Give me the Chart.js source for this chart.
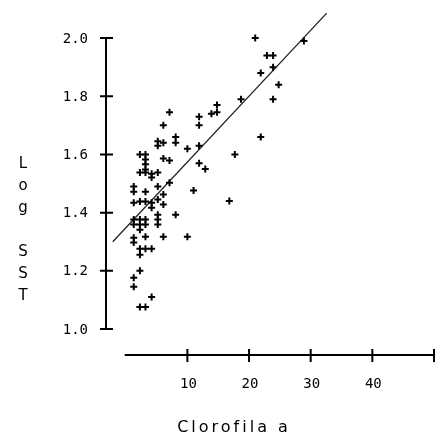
<!DOCTYPE html>
<html lang="en">
<head>
    <meta charset="UTF-8">
    <title>Log SST vs Clorofila a</title>
    <style>
        body { margin: 0; background: #fff; }
        #wrap { width: 440px; height: 436px; position: relative; }
    </style>
</head>
<body>
    <div id="wrap"><canvas id="chart"></canvas></div>

    <script src="https://cdn.jsdelivr.net/npm/chart.js"></script>
    <script>
        // values
        const clorofila = [
            21.0, 28.9, 22.9, 23.9, 21.9, 23.9, 24.8, 23.9, 18.7, 21.9, 17.7, 16.8,
            14.8, 14.8, 13.9, 11.9, 11.9, 11.9, 11.9, 12.9, 10.0,
            7.1, 6.1, 8.1, 8.1, 5.2, 6.1, 5.2,
            2.3, 3.2, 3.2, 3.2, 3.2, 2.3, 3.2, 4.2, 5.2, 4.2, 6.1, 7.1,
            1.3, 1.3, 3.2, 5.2, 7.1, 11.0,
            1.3, 2.3, 3.2, 4.2, 5.2, 6.1, 6.1, 4.2,
            5.2, 5.2, 5.2, 8.1,
            1.3, 2.3, 3.2, 1.3, 2.3, 3.2, 2.3,
            1.3, 1.3, 3.2, 6.1, 10.0,
            2.3, 3.2, 4.2, 2.3, 2.3, 1.3, 1.3, 4.2, 2.3, 3.2
        ];
        const logSST = [
            2.00, 1.99, 1.94, 1.94, 1.88, 1.90, 1.84, 1.79, 1.79, 1.66, 1.60, 1.44,
            1.77, 1.745, 1.74, 1.73, 1.70, 1.63, 1.57, 1.55, 1.62,
            1.745, 1.70, 1.66, 1.64, 1.645, 1.64, 1.63,
            1.60, 1.60, 1.583, 1.566, 1.548, 1.538, 1.538, 1.534, 1.538, 1.521, 1.586, 1.579,
            1.49, 1.472, 1.472, 1.49, 1.503, 1.476,
            1.434, 1.438, 1.438, 1.434, 1.445, 1.462, 1.428, 1.417,
            1.393, 1.376, 1.359, 1.393,
            1.376, 1.376, 1.376, 1.359, 1.359, 1.359, 1.341,
            1.314, 1.297, 1.317, 1.317, 1.317,
            1.276, 1.276, 1.276, 1.255, 1.20, 1.176, 1.145, 1.11, 1.076, 1.076
        ];
        // fitted line end points
        const fitX = [-2.1, 32.6];
        const fitY = [1.30, 2.086];

        const xTicks = [10, 20, 30, 40, 50];
        const xTickLabels = ['10', '20', '30', '40', ''];
        const yTicks = [1.0, 1.2, 1.4, 1.6, 1.8, 2.0];
        const yTickLabels = ['1.0', '1.2', '1.4', '1.6', '1.8', '2.0'];
        const xTitle = 'Clorofila a';
        const yTitle = ['L', 'o', 'g', '', 'S', 'S', 'T'];

        const points = clorofila.map((v, i) => ({ x: v, y: logSST[i] }));
        const fit = fitX.map((v, i) => ({ x: v, y: fitY[i] }));

        // axes drawn by hand, Mac-plot style
        const axesPlugin = {
            id: 'macAxes',
            afterDraw(chart) {
                const ctx = chart.ctx;
                const xs = chart.scales.x;
                const ys = chart.scales.y;
                const ax = chart.chartArea.left;
                const ay = 355;
                ctx.save();
                ctx.strokeStyle = '#000';
                ctx.fillStyle = '#000';
                ctx.lineWidth = 2;

                // y axis
                ctx.beginPath();
                ctx.moveTo(ax, ys.getPixelForValue(yTicks[0]));
                ctx.lineTo(ax, ys.getPixelForValue(yTicks[yTicks.length - 1]));
                yTicks.forEach(t => {
                    const py = ys.getPixelForValue(t);
                    ctx.moveTo(ax - 6, py);
                    ctx.lineTo(ax + 7, py);
                });
                ctx.stroke();

                // x axis
                ctx.beginPath();
                ctx.moveTo(xs.getPixelForValue(0) - 1, ay);
                ctx.lineTo(xs.getPixelForValue(50), ay);
                xTicks.forEach(t => {
                    const px = xs.getPixelForValue(t);
                    ctx.moveTo(px, ay - 6);
                    ctx.lineTo(px, ay + 7);
                });
                ctx.stroke();

                ctx.font = '14px "DejaVu Sans Mono"';
                ctx.textBaseline = 'middle';
                ctx.textAlign = 'right';
                yTicks.forEach((t, i) => {
                    ctx.fillText(yTickLabels[i], 88, ys.getPixelForValue(t) + 1);
                });
                ctx.textAlign = 'center';
                xTicks.forEach((t, i) => {
                    ctx.fillText(xTickLabels[i], xs.getPixelForValue(t) + 1, 384);
                });

                // titles
                ctx.font = '16px "DejaVu Sans"';
                ctx.textBaseline = 'alphabetic';
                ctx.letterSpacing = '3px';
                ctx.fillText(xTitle, 234, 432);
                ctx.letterSpacing = '0px';
                ctx.font = '15px "DejaVu Sans"';
                yTitle.forEach((ch, i) => {
                    ctx.fillText(ch, 23, 168 + i * 22);
                });
                ctx.restore();
            }
        };

        new Chart(document.getElementById('chart'), {
            type: 'scatter',
            data: {
                datasets: [
                    {
                        label: 'Log SST',
                        data: points,
                        pointStyle: 'cross',
                        pointRadius: 3.5,
                        pointBorderWidth: 2,
                        borderColor: '#000',
                        backgroundColor: '#000'
                    },
                    {
                        type: 'line',
                        label: 'fit',
                        data: fit,
                        borderColor: '#222',
                        borderWidth: 1.3,
                        pointRadius: 0,
                        fill: false
                    }
                ]
            },
            options: {
                responsive: true,
                maintainAspectRatio: false,
                animation: false,
                layout: { padding: { left: 106, right: 4, top: 9, bottom: 107 } },
                plugins: { legend: { display: false }, tooltip: { enabled: false } },
                scales: {
                    x: { type: 'linear', min: -3.2, max: 50, display: false },
                    y: { type: 'linear', min: 1.0, max: 2.1, display: false }
                }
            },
            plugins: [axesPlugin]
        });
    </script>
</body>
</html>
